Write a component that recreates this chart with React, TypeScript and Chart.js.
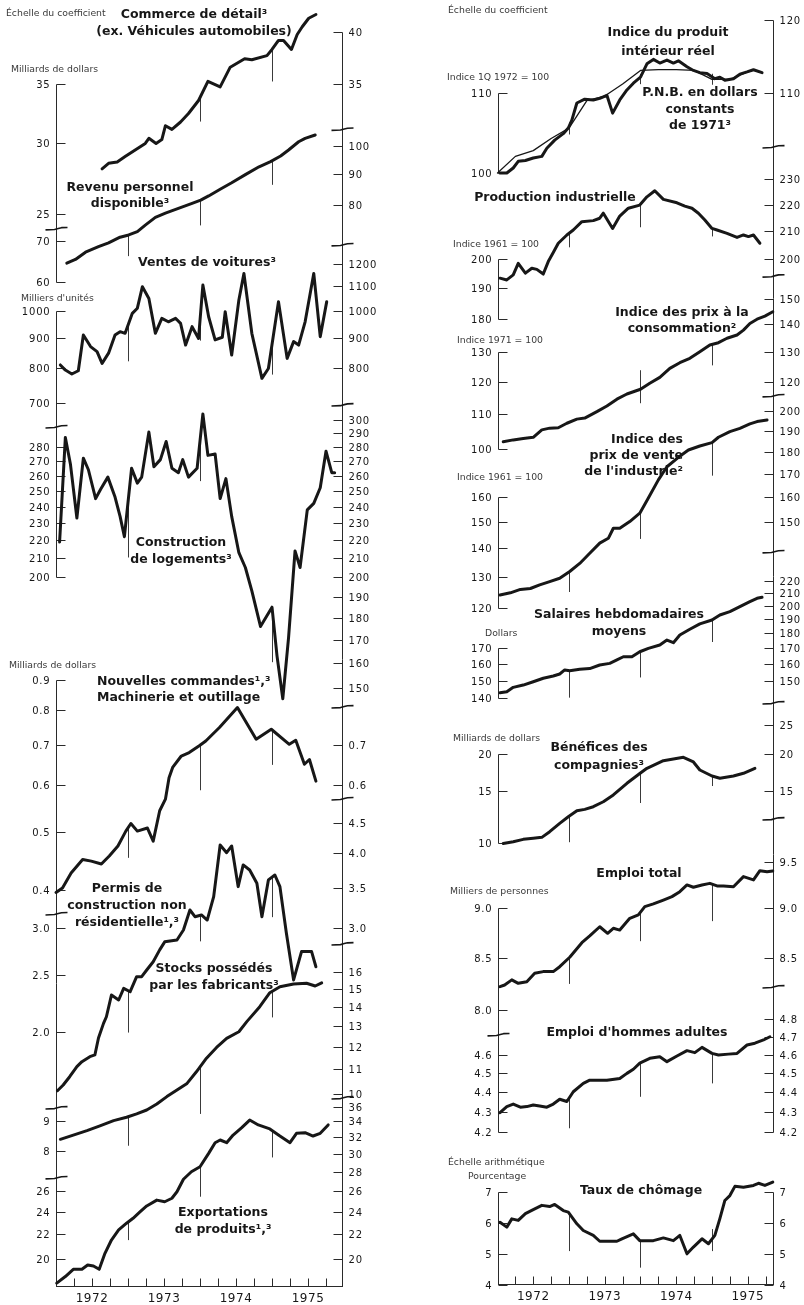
import React, { useEffect, useRef } from "react";
import { Chart, registerables } from "chart.js";

Chart.register(...registerables);

type Pt = [number, number];
type Col = "L" | "R";
type Ref = [string, number];

const W = 804;
const H = 1305;

// ---------------- time axis ----------------
const yearLabels = ["1972", "1973", "1974", "1975"];
const yearCenters = [1972.5, 1973.5, 1974.5, 1975.5];
const quarterTicks = [
  1972.25, 1972.5, 1972.75, 1973, 1973.25, 1973.5, 1973.75, 1974, 1974.25, 1974.5, 1974.75,
  1975, 1975.25, 1975.5, 1975.75,
];

// ---------------- left column series: [year, value] ----------------
const commerceDetail: Pt[] = [
  [1972.64, 28.1], [1972.73, 28.5], [1972.85, 28.6], [1972.96, 29.0], [1973.1, 29.5],
  [1973.24, 30.0], [1973.29, 30.4], [1973.39, 30.0], [1973.47, 30.3], [1973.52, 31.4],
  [1973.61, 31.1], [1973.73, 31.7], [1973.84, 32.4], [1973.98, 33.5], [1974.11, 35.2],
  [1974.28, 34.7], [1974.42, 36.5], [1974.62, 37.3], [1974.72, 37.2], [1974.93, 37.6],
  [1975.0, 38.2], [1975.09, 39.1], [1975.16, 39.1], [1975.27, 38.2], [1975.35, 39.7],
  [1975.42, 40.5], [1975.51, 41.4], [1975.61, 41.8],
];
const revenuDisponible: Pt[] = [
  [1972.15, 64.4], [1972.27, 65.3], [1972.41, 67.1], [1972.59, 68.5], [1972.73, 69.5],
  [1972.89, 71.0], [1973.01, 71.6], [1973.13, 72.5], [1973.24, 74.3], [1973.38, 76.5],
  [1973.52, 77.7], [1973.7, 79.1], [1973.89, 80.6], [1974.01, 81.6], [1974.12, 82.9],
  [1974.28, 85.0], [1974.44, 87.1], [1974.63, 89.8], [1974.82, 92.5], [1974.98, 94.3],
  [1975.12, 96.3], [1975.23, 98.5], [1975.37, 101.6], [1975.46, 102.9], [1975.6, 104.2],
];
const ventesVoitures: Pt[] = [
  [1972.06, 811], [1972.13, 795], [1972.22, 783], [1972.31, 793], [1972.38, 911],
  [1972.48, 871], [1972.57, 854], [1972.64, 816], [1972.73, 849], [1972.82, 911],
  [1972.89, 923], [1972.96, 917], [1973.06, 991], [1973.13, 1011], [1973.2, 1099],
  [1973.29, 1050], [1973.38, 917], [1973.47, 972], [1973.56, 959], [1973.66, 972],
  [1973.73, 953], [1973.8, 876], [1973.89, 941], [1973.98, 899], [1974.04, 1106],
  [1974.12, 978], [1974.21, 894], [1974.31, 903], [1974.35, 997], [1974.44, 843],
  [1974.54, 1044], [1974.61, 1157], [1974.72, 917], [1974.86, 770], [1974.95, 800],
  [1975.09, 1037], [1975.21, 832], [1975.3, 888], [1975.37, 876], [1975.46, 959],
  [1975.58, 1157], [1975.67, 905], [1975.76, 1037],
];
const constructionLogements: Pt[] = [
  [1972.05, 219], [1972.13, 287], [1972.2, 268], [1972.29, 233], [1972.38, 272],
  [1972.45, 264], [1972.55, 245], [1972.62, 251], [1972.72, 259], [1972.82, 246],
  [1972.89, 234], [1972.95, 222], [1973.05, 265], [1973.13, 255], [1973.19, 259],
  [1973.29, 291], [1973.36, 266], [1973.45, 271], [1973.53, 284], [1973.61, 265],
  [1973.7, 262], [1973.76, 271], [1973.84, 259], [1973.96, 265], [1974.04, 305],
  [1974.11, 274], [1974.21, 275], [1974.28, 245], [1974.36, 258], [1974.44, 234],
  [1974.54, 213], [1974.63, 205], [1974.72, 193], [1974.84, 176], [1975.0, 185],
  [1975.07, 163], [1975.15, 146], [1975.23, 171], [1975.32, 214], [1975.39, 205],
  [1975.49, 238], [1975.58, 242], [1975.67, 252], [1975.75, 277], [1975.83, 262],
  [1975.87, 262],
];
const nouvellesCommandes: Pt[] = [
  [1972.0, 0.396], [1972.09, 0.403], [1972.21, 0.427], [1972.37, 0.45], [1972.49, 0.447],
  [1972.63, 0.442], [1972.74, 0.456], [1972.86, 0.474], [1972.97, 0.502], [1973.04, 0.517],
  [1973.13, 0.502], [1973.27, 0.508], [1973.35, 0.483], [1973.44, 0.543], [1973.52, 0.568],
  [1973.57, 0.617], [1973.62, 0.642], [1973.74, 0.671], [1973.85, 0.68], [1973.99, 0.698],
  [1974.08, 0.711], [1974.27, 0.749], [1974.52, 0.809], [1974.78, 0.716], [1974.99, 0.744],
  [1975.24, 0.702], [1975.33, 0.713], [1975.45, 0.65], [1975.52, 0.662], [1975.61, 0.609],
];
const permisNonResidentiels: Pt[] = [
  [1972.02, 1.595], [1972.1, 1.631], [1972.19, 1.684], [1972.29, 1.751], [1972.36, 1.785],
  [1972.47, 1.82], [1972.54, 1.832], [1972.59, 1.956], [1972.66, 2.07], [1972.7, 2.124],
  [1972.77, 2.31], [1972.87, 2.266], [1972.94, 2.371], [1973.03, 2.34], [1973.12, 2.48],
  [1973.19, 2.48], [1973.26, 2.545], [1973.35, 2.628], [1973.44, 2.751], [1973.51, 2.838],
  [1973.68, 2.858], [1973.77, 2.971], [1973.86, 3.21], [1973.93, 3.128], [1974.02, 3.149],
  [1974.1, 3.088], [1974.19, 3.381], [1974.28, 4.128], [1974.37, 4.007], [1974.44, 4.113],
  [1974.53, 3.514], [1974.6, 3.822], [1974.69, 3.747], [1974.79, 3.561], [1974.86, 3.128],
  [1974.95, 3.607], [1975.04, 3.676], [1975.11, 3.514], [1975.2, 2.934], [1975.3, 2.449],
  [1975.41, 2.733], [1975.55, 2.733], [1975.61, 2.577],
];
const stocksFabricants: Pt[] = [
  [1972.06, 8.37], [1972.24, 8.51], [1972.43, 8.66], [1972.61, 8.82], [1972.8, 9.0],
  [1972.98, 9.12], [1973.12, 9.24], [1973.26, 9.38], [1973.4, 9.6], [1973.54, 9.88],
  [1973.68, 10.14], [1973.82, 10.4], [1973.95, 10.88], [1974.09, 11.47], [1974.23, 11.96],
  [1974.37, 12.39], [1974.54, 12.71], [1974.65, 13.22], [1974.83, 14.01], [1974.97, 14.79],
  [1975.11, 15.14], [1975.3, 15.3], [1975.48, 15.34], [1975.6, 15.18], [1975.69, 15.37],
];
const exportationsProduits: Pt[] = [
  [1972.01, 18.22], [1972.13, 18.69], [1972.24, 19.22], [1972.36, 19.22], [1972.44, 19.54],
  [1972.52, 19.47], [1972.6, 19.22], [1972.68, 20.44], [1972.77, 21.52], [1972.87, 22.37],
  [1972.98, 22.96], [1973.07, 23.4], [1973.17, 24.0], [1973.26, 24.54], [1973.4, 25.1],
  [1973.51, 24.94], [1973.61, 25.28], [1973.68, 25.92], [1973.77, 27.2], [1973.88, 28.0],
  [1974.0, 28.55], [1974.12, 30.06], [1974.21, 31.32], [1974.28, 31.65], [1974.37, 31.32],
  [1974.46, 32.26], [1974.58, 33.19], [1974.69, 34.18], [1974.81, 33.54], [1974.97, 33.03],
  [1975.11, 32.14], [1975.25, 31.32], [1975.34, 32.48], [1975.46, 32.56], [1975.57, 32.14],
  [1975.67, 32.48], [1975.78, 33.54],
];

// ---------------- right column series ----------------
const produitInterieurReel: Pt[] = [
  [1972.035, 100.0], [1972.13, 100.0], [1972.22, 100.6], [1972.29, 101.4], [1972.39, 101.5],
  [1972.5, 101.8], [1972.62, 102.0], [1972.69, 103.0], [1972.8, 104.0], [1972.92, 104.8],
  [1972.99, 105.5], [1973.04, 106.5], [1973.11, 108.7], [1973.22, 109.2], [1973.34, 109.1],
  [1973.43, 109.3], [1973.53, 109.7], [1973.61, 107.4], [1973.71, 109.1], [1973.81, 110.4],
  [1973.9, 111.3], [1974.0, 112.1], [1974.09, 113.9], [1974.18, 114.5], [1974.27, 114.0],
  [1974.37, 114.4], [1974.46, 114.0], [1974.53, 114.3], [1974.65, 113.5], [1974.74, 113.0],
  [1974.83, 112.7], [1974.93, 112.6], [1975.04, 111.9], [1975.11, 112.1], [1975.18, 111.7],
  [1975.3, 111.9], [1975.39, 112.5], [1975.49, 112.8], [1975.58, 113.1], [1975.7, 112.7],
];
const pnbDollarsConstants: Pt[] = [
  [1972.0, 100.0], [1972.25, 102.0], [1972.5, 102.7], [1972.75, 104.2], [1973.0, 105.5],
  [1973.25, 109.0], [1973.5, 109.6], [1973.75, 111.2], [1974.0, 113.0], [1974.25, 113.1],
  [1974.5, 113.1], [1974.75, 113.0], [1975.0, 111.8], [1975.25, 111.8], [1975.5, 112.8],
];
const productionIndustrielle: Pt[] = [
  [1972.035, 193.4], [1972.13, 192.8], [1972.22, 194.5], [1972.29, 198.5], [1972.39, 195.1],
  [1972.48, 196.8], [1972.55, 196.4], [1972.64, 194.8], [1972.71, 199.1], [1972.78, 202.3],
  [1972.85, 205.6], [1972.97, 208.6], [1973.06, 210.4], [1973.18, 213.5], [1973.34, 213.9],
  [1973.43, 214.8], [1973.48, 216.7], [1973.61, 211.0], [1973.71, 215.6], [1973.83, 218.6],
  [1973.99, 219.8], [1974.09, 223.0], [1974.2, 225.4], [1974.32, 222.0], [1974.51, 220.7],
  [1974.62, 219.4], [1974.72, 218.6], [1974.81, 216.7], [1974.9, 214.1], [1975.0, 211.0],
  [1975.07, 210.4], [1975.21, 209.2], [1975.35, 207.7], [1975.44, 208.6], [1975.51, 208.0],
  [1975.58, 208.6], [1975.67, 205.6],
];
const prixConsommation: Pt[] = [
  [1972.08, 102.1], [1972.22, 102.6], [1972.36, 103.0], [1972.5, 103.3], [1972.62, 105.4],
  [1972.73, 105.9], [1972.85, 106.0], [1972.97, 107.3], [1973.11, 108.5], [1973.22, 108.8],
  [1973.39, 110.7], [1973.53, 112.4], [1973.67, 114.5], [1973.81, 116.1], [1974.0, 117.6],
  [1974.13, 119.5], [1974.27, 121.4], [1974.41, 124.4], [1974.55, 126.3], [1974.69, 127.8],
  [1974.83, 130.1], [1974.97, 132.5], [1975.09, 133.3], [1975.21, 134.9], [1975.35, 136.1],
  [1975.44, 137.9], [1975.53, 140.4], [1975.63, 142.0], [1975.74, 143.2], [1975.85, 144.9],
];
const prixVenteIndustrie: Pt[] = [
  [1972.035, 124.0], [1972.18, 124.7], [1972.32, 125.8], [1972.46, 126.1], [1972.59, 127.3],
  [1972.73, 128.4], [1972.87, 129.5], [1973.01, 131.8], [1973.15, 134.6], [1973.29, 138.2],
  [1973.43, 141.9], [1973.55, 143.7], [1973.62, 147.5], [1973.71, 147.5], [1973.85, 150.1],
  [1973.99, 153.4], [1974.11, 159.6], [1974.25, 167.3], [1974.37, 173.1], [1974.53, 177.4],
  [1974.67, 180.8], [1974.83, 182.7], [1975.0, 184.3], [1975.09, 186.9], [1975.25, 189.7],
  [1975.39, 191.3], [1975.53, 193.5], [1975.63, 194.7], [1975.77, 195.5],
];
const salairesHebdomadaires: Pt[] = [
  [1972.035, 143.1], [1972.13, 143.7], [1972.22, 146.1], [1972.36, 147.4], [1972.5, 149.3],
  [1972.64, 151.3], [1972.78, 152.6], [1972.87, 153.8], [1972.94, 156.2], [1973.01, 155.7],
  [1973.15, 156.6], [1973.29, 157.0], [1973.43, 159.2], [1973.57, 160.2], [1973.67, 162.3],
  [1973.76, 164.3], [1973.88, 164.3], [1973.99, 167.5], [1974.11, 169.7], [1974.27, 171.9],
  [1974.37, 175.2], [1974.46, 173.4], [1974.55, 178.6], [1974.69, 182.6], [1974.83, 186.4],
  [1975.0, 189.2], [1975.11, 192.9], [1975.25, 195.4], [1975.39, 199.2], [1975.53, 203.0],
  [1975.63, 205.6], [1975.7, 206.4],
];
const beneficesCompagnies: Pt[] = [
  [1972.08, 10.0], [1972.22, 10.13], [1972.36, 10.32], [1972.5, 10.4], [1972.62, 10.48],
  [1972.73, 10.95], [1972.87, 11.68], [1972.99, 12.3], [1973.11, 12.88], [1973.22, 13.02],
  [1973.34, 13.29], [1973.48, 13.81], [1973.62, 14.56], [1973.81, 15.94], [1973.99, 17.19],
  [1974.09, 17.9], [1974.32, 18.99], [1974.6, 19.49], [1974.74, 18.8], [1974.83, 17.67],
  [1975.0, 16.86], [1975.11, 16.57], [1975.3, 16.86], [1975.44, 17.22], [1975.6, 17.9],
];
const emploiTotal: Pt[] = [
  [1972.035, 8.218], [1972.1, 8.234], [1972.2, 8.283], [1972.29, 8.25], [1972.41, 8.266],
  [1972.52, 8.347], [1972.64, 8.363], [1972.78, 8.363], [1972.87, 8.411], [1973.01, 8.504],
  [1973.18, 8.649], [1973.29, 8.717], [1973.43, 8.811], [1973.54, 8.744], [1973.62, 8.795],
  [1973.71, 8.777], [1973.85, 8.898], [1973.97, 8.933], [1974.06, 9.019], [1974.18, 9.048],
  [1974.32, 9.089], [1974.44, 9.125], [1974.55, 9.178], [1974.65, 9.25], [1974.74, 9.225],
  [1974.86, 9.25], [1974.97, 9.267], [1975.07, 9.239], [1975.16, 9.239], [1975.3, 9.231],
  [1975.44, 9.34], [1975.58, 9.304], [1975.67, 9.405], [1975.77, 9.394], [1975.85, 9.401],
];
const emploiHommesAdultes: Pt[] = [
  [1972.035, 4.295], [1972.13, 4.326], [1972.22, 4.339], [1972.32, 4.323], [1972.41, 4.326],
  [1972.5, 4.334], [1972.59, 4.329], [1972.69, 4.323], [1972.78, 4.339], [1972.87, 4.364],
  [1972.97, 4.352], [1973.06, 4.403], [1973.2, 4.447], [1973.29, 4.464], [1973.53, 4.464],
  [1973.71, 4.473], [1973.81, 4.5], [1973.9, 4.522], [1973.99, 4.555], [1974.13, 4.581],
  [1974.27, 4.59], [1974.37, 4.563], [1974.51, 4.594], [1974.65, 4.623], [1974.76, 4.612],
  [1974.86, 4.641], [1975.0, 4.608], [1975.09, 4.599], [1975.23, 4.604], [1975.35, 4.608],
  [1975.49, 4.654], [1975.6, 4.664], [1975.72, 4.682], [1975.81, 4.7],
];
const tauxChomage: Pt[] = [
  [1972.035, 6.03], [1972.13, 5.87], [1972.2, 6.14], [1972.29, 6.09], [1972.39, 6.31],
  [1972.5, 6.44], [1972.62, 6.58], [1972.73, 6.54], [1972.8, 6.61], [1972.92, 6.41],
  [1972.99, 6.36], [1973.11, 5.98], [1973.2, 5.76], [1973.34, 5.6], [1973.43, 5.41],
  [1973.67, 5.41], [1973.74, 5.49], [1973.9, 5.65], [1973.99, 5.43], [1974.18, 5.43],
  [1974.32, 5.52], [1974.46, 5.43], [1974.55, 5.6], [1974.65, 5.0], [1974.74, 5.22],
  [1974.86, 5.49], [1974.95, 5.33], [1975.04, 5.6], [1975.11, 6.15], [1975.18, 6.74],
  [1975.25, 6.9], [1975.32, 7.2], [1975.44, 7.17], [1975.58, 7.23], [1975.65, 7.3],
  [1975.74, 7.23], [1975.85, 7.34],
];

// ---------------- tick labels ----------------
const commerceTicksL = [35, 30, 25];
const commerceTicksR = [40, 35];
const revenuTicksL = [70, 60];
const revenuTicksR = [100, 90, 80];
const voituresTicksL = [1000, 900, 800, 700];
const voituresTicksR = [1200, 1100, 1000, 900, 800];
const logementsTicksL = [280, 270, 260, 250, 240, 230, 220, 210, 200];
const logementsTicksR = [300, 290, 280, 270, 260, 250, 240, 230, 220, 210, 200, 190, 180, 170, 160, 150];
const commandesTicksL = [0.9, 0.8, 0.7, 0.6, 0.5, 0.4];
const commandesTicksR = [0.7, 0.6];
const permisTicksL = [3.0, 2.5, 2.0];
const permisTicksR = [4.5, 4.0, 3.5, 3.0];
const stocksTicksL = [9, 8];
const stocksTicksR = [16, 15, 14, 13, 12, 11, 10];
const exportTicksL = [26, 24, 22, 20];
const exportTicksR = [36, 34, 32, 30, 28, 26, 24, 22, 20];
const pibTicksL = [110, 100];
const pibTicksR = [120, 110];
const prodTicksL = [200, 190, 180];
const prodTicksR = [230, 220, 210, 200];
const ipcTicksL = [130, 120, 110, 100];
const ipcTicksR = [150, 140, 130, 120];
const ipvTicksL = [160, 150, 140, 130, 120];
const ipvTicksR = [200, 190, 180, 170, 160, 150];
const salTicksL = [170, 160, 150, 140];
const salTicksR = [220, 210, 200, 190, 180, 170, 160, 150];
const benTicksL = [20, 15, 10];
const benTicksR = [25, 20, 15];
const empTicksL = [9.0, 8.5, 8.0];
const empTicksR = [9.5, 9.0, 8.5];
const homTicksL = [4.6, 4.5, 4.4, 4.3, 4.2];
const homTicksR = [4.8, 4.7, 4.6, 4.5, 4.4, 4.3, 4.2];
const choTicksL = [7, 6, 5, 4];
const choTicksR = [7, 6, 5, 4];

// ---------------- layout & styles ----------------
const INK = "#171717";
const AXIS = "#2a2a2a";
const SOFT = "#3a3a3a";
const FONT = '"DejaVu Sans", "Liberation Sans", sans-serif';

const COLS: Record<Col, { x0: number; ppy: number; leftX: number; rightX: number; baseY: number; xStart: number; xEnd: number }> = {
  L: { x0: 56, ppy: 72, leftX: 56.5, rightX: 342.5, baseY: 1286.5, xStart: 56, xEnd: 343 },
  R: { x0: 497.5, ppy: 71.5, leftX: 498.5, rightX: 773.5, baseY: 1284.5, xStart: 498, xEnd: 774 },
};

// scale calibration: a value, the pixel row it sits on, pixels per decade (log) or per unit (linear)
const SCALES: Record<string, { type: "logarithmic" | "linear"; value: number; pixel: number; per: number }> = {
  yCom: { type: "logarithmic", value: 35, pixel: 83.5, per: 895 },
  yRev: { type: "logarithmic", value: 100, pixel: 146, per: 613 },
  yCar: { type: "logarithmic", value: 1000, pixel: 311, per: 593 },
  yCon: { type: "logarithmic", value: 280, pixel: 447, per: 890 },
  yCmd: { type: "logarithmic", value: 0.9, pixel: 680, per: 596 },
  yPer: { type: "logarithmic", value: 3.0, pixel: 927.5, per: 595 },
  yStk: { type: "logarithmic", value: 10, pixel: 1093.5, per: 593 },
  yExp: { type: "logarithmic", value: 20, pixel: 1259, per: 597 },
  yPib: { type: "logarithmic", value: 100, pixel: 173, per: 1932 },
  yPro: { type: "logarithmic", value: 200, pixel: 259, per: 1315 },
  yCpi: { type: "logarithmic", value: 130, pixel: 352, per: 855 },
  yIpv: { type: "logarithmic", value: 160, pixel: 497, per: 885 },
  ySal: { type: "logarithmic", value: 150, pixel: 680.5, per: 600 },
  yBen: { type: "logarithmic", value: 20, pixel: 754, per: 297 },
  yEmp: { type: "logarithmic", value: 9, pixel: 908.5, per: 1980 },
  yHom: { type: "logarithmic", value: 4.2, pixel: 1131.5, per: 1940 },
  yCho: { type: "linear", value: 4, pixel: 1284.5, per: 30.67 },
};

type Series = { data: Pt[]; col: Col; y: string; width: number; markers: [number, number, number][] };
const SERIES: Series[] = [
  { data: commerceDetail, col: "L", y: "yCom", width: 3, markers: [[1974, 0, 24], [1975, 0, 32]] },
  { data: revenuDisponible, col: "L", y: "yRev", width: 3, markers: [[1973, 0, 21], [1974, 0, 25], [1975, 0, 24]] },
  { data: ventesVoitures, col: "L", y: "yCar", width: 3, markers: [[1973, 0, 36], [1974, 0, 20], [1975, 0, 30]] },
  { data: constructionLogements, col: "L", y: "yCon", width: 3, markers: [[1973, 0, 55], [1974, 0, 40], [1975, 0, 55]] },
  { data: nouvellesCommandes, col: "L", y: "yCmd", width: 3, markers: [[1973, 0, 30], [1974, 0, 45], [1975, 0, 35]] },
  { data: permisNonResidentiels, col: "L", y: "yPer", width: 3, markers: [[1973, 0, 42], [1974, 0, 26], [1975, 0, 40]] },
  { data: stocksFabricants, col: "L", y: "yStk", width: 3, markers: [[1973, 0, 29], [1974, 0, 47], [1975, 0, 26]] },
  { data: exportationsProduits, col: "L", y: "yExp", width: 3, markers: [[1973, 0, 18], [1974, 0, 30], [1975, 0, 27]] },
  { data: produitInterieurReel, col: "R", y: "yPib", width: 3, markers: [[1973, 4, 8], [1974, 3, 7], [1975, 3, 8]] },
  { data: pnbDollarsConstants, col: "R", y: "yPib", width: 1.3, markers: [] },
  { data: productionIndustrielle, col: "R", y: "yPro", width: 3, markers: [[1973, 0, 14], [1974, 0, 23], [1975, 0, 8]] },
  { data: prixConsommation, col: "R", y: "yCpi", width: 3, markers: [[1974, 19, 14], [1975, 0, 21]] },
  { data: prixVenteIndustrie, col: "R", y: "yIpv", width: 3, markers: [[1973, 0, 20], [1974, 0, 27], [1975, 0, 33]] },
  { data: salairesHebdomadaires, col: "R", y: "ySal", width: 3, markers: [[1973, 0, 27], [1974, 0, 26], [1975, 0, 22]] },
  { data: beneficesCompagnies, col: "R", y: "yBen", width: 3, markers: [[1973, 0, 26], [1974, 0, 30], [1975, 0, 10]] },
  { data: emploiTotal, col: "R", y: "yEmp", width: 3, markers: [[1973, 0, 26], [1974, 0, 29], [1975, 0, 37]] },
  { data: emploiHommesAdultes, col: "R", y: "yHom", width: 3, markers: [[1973, 0, 30], [1974, 0, 34], [1975, 0, 30]] },
  { data: tauxChomage, col: "R", y: "yCho", width: 3, markers: [[1973, 0, 38], [1974, 0, 27], [1975, 10, 12]] },
];

const TICK_SETS: { id: string; col: Col; left: number[]; right: number[]; dec: number }[] = [
  { id: "yCom", col: "L", left: commerceTicksL, right: commerceTicksR, dec: 0 },
  { id: "yRev", col: "L", left: revenuTicksL, right: revenuTicksR, dec: 0 },
  { id: "yCar", col: "L", left: voituresTicksL, right: voituresTicksR, dec: 0 },
  { id: "yCon", col: "L", left: logementsTicksL, right: logementsTicksR, dec: 0 },
  { id: "yCmd", col: "L", left: commandesTicksL, right: commandesTicksR, dec: 1 },
  { id: "yPer", col: "L", left: permisTicksL, right: permisTicksR, dec: 1 },
  { id: "yStk", col: "L", left: stocksTicksL, right: stocksTicksR, dec: 0 },
  { id: "yExp", col: "L", left: exportTicksL, right: exportTicksR, dec: 0 },
  { id: "yPib", col: "R", left: pibTicksL, right: pibTicksR, dec: 0 },
  { id: "yPro", col: "R", left: prodTicksL, right: prodTicksR, dec: 0 },
  { id: "yCpi", col: "R", left: ipcTicksL, right: ipcTicksR, dec: 0 },
  { id: "yIpv", col: "R", left: ipvTicksL, right: ipvTicksR, dec: 0 },
  { id: "ySal", col: "R", left: salTicksL, right: salTicksR, dec: 0 },
  { id: "yBen", col: "R", left: benTicksL, right: benTicksR, dec: 0 },
  { id: "yEmp", col: "R", left: empTicksL, right: empTicksR, dec: 1 },
  { id: "yHom", col: "R", left: homTicksL, right: homTicksR, dec: 1 },
  { id: "yCho", col: "R", left: choTicksL, right: choTicksR, dec: 0 },
];

const LEFT_AXES: { col: Col; top: Ref; bottom: Ref | null }[] = [
  { col: "L", top: ["yCom", 35], bottom: ["yRev", 60] },
  { col: "L", top: ["yCar", 1000], bottom: ["yCon", 200] },
  { col: "L", top: ["yCmd", 0.9], bottom: null },
  { col: "R", top: ["yPib", 110], bottom: ["yPib", 100] },
  { col: "R", top: ["yPro", 200], bottom: ["yPro", 180] },
  { col: "R", top: ["yCpi", 130], bottom: ["yCpi", 100] },
  { col: "R", top: ["yIpv", 160], bottom: ["yIpv", 120] },
  { col: "R", top: ["ySal", 170], bottom: ["ySal", 140] },
  { col: "R", top: ["yBen", 20], bottom: ["yBen", 10] },
  { col: "R", top: ["yEmp", 9.0], bottom: ["yHom", 4.2] },
  { col: "R", top: ["yCho", 7], bottom: null },
];
const RIGHT_AXES: { col: Col; top: Ref; bottom: Ref | null }[] = [
  { col: "L", top: ["yCom", 40], bottom: null },
  { col: "R", top: ["yPib", 120], bottom: ["yHom", 4.2] },
  { col: "R", top: ["yCho", 7], bottom: null },
];
const BREAKS: { col: Col; side: "left" | "right"; at: Ref }[] = [
  { col: "L", side: "left", at: ["yCom", 24.08] },
  { col: "L", side: "left", at: ["yCar", 637.5] },
  { col: "L", side: "left", at: ["yCmd", 0.3645] },
  { col: "L", side: "left", at: ["yStk", 9.453] },
  { col: "L", side: "left", at: ["yStk", 7.205] },
  { col: "L", side: "right", at: ["yCom", 31.1] },
  { col: "L", side: "right", at: ["yRev", 68.97] },
  { col: "L", side: "right", at: ["yCar", 694] },
  { col: "L", side: "right", at: ["yCon", 142.9] },
  { col: "L", side: "right", at: ["yCmd", 0.5684] },
  { col: "L", side: "right", at: ["yPer", 2.814] },
  { col: "L", side: "right", at: ["yStk", 9.827] },
  { col: "R", side: "left", at: ["yEmp", 7.77] },
  { col: "R", side: "right", at: ["yPib", 103.15] },
  { col: "R", side: "right", at: ["yPro", 194.1] },
  { col: "R", side: "right", at: ["yCpi", 115.5] },
  { col: "R", side: "right", at: ["yIpv", 138.7] },
  { col: "R", side: "right", at: ["ySal", 137.6] },
  { col: "R", side: "right", at: ["yBen", 12.08] },
  { col: "R", side: "right", at: ["yEmp", 8.215] },
];

const TITLES: { lines: string[]; x: number; y: number; lh: number; align: CanvasTextAlign }[] = [
  { lines: ["Commerce de détail³", "(ex. Véhicules automobiles)"], x: 194, y: 15, lh: 17, align: "center" },
  { lines: ["Revenu personnel", "disponible³"], x: 130, y: 188, lh: 16, align: "center" },
  { lines: ["Ventes de voitures³"], x: 207, y: 263, lh: 16, align: "center" },
  { lines: ["Construction", "de logements³"], x: 181, y: 543, lh: 17, align: "center" },
  { lines: ["Nouvelles commandes¹,³", "Machinerie et outillage"], x: 97, y: 682, lh: 16, align: "left" },
  { lines: ["Permis de", "construction non", "résidentielle¹,³"], x: 127, y: 889, lh: 17, align: "center" },
  { lines: ["Stocks possédés", "par les fabricants³"], x: 214, y: 969, lh: 17, align: "center" },
  { lines: ["Exportations", "de produits¹,³"], x: 223, y: 1213, lh: 17, align: "center" },
  { lines: ["Indice du produit", "intérieur réel"], x: 668, y: 33, lh: 19, align: "center" },
  { lines: ["P.N.B. en dollars", "constants", "de 1971³"], x: 700, y: 93, lh: 16.5, align: "center" },
  { lines: ["Production industrielle"], x: 555, y: 198, lh: 16, align: "center" },
  { lines: ["Indice des prix à la", "consommation²"], x: 682, y: 313, lh: 16, align: "center" },
  { lines: ["Indice des", "prix de vente", "de l'industrie²"], x: 683, y: 440, lh: 16, align: "right" },
  { lines: ["Salaires hebdomadaires", "moyens"], x: 619, y: 615, lh: 17, align: "center" },
  { lines: ["Bénéfices des", "compagnies³"], x: 599, y: 748, lh: 18, align: "center" },
  { lines: ["Emploi total"], x: 639, y: 874, lh: 16, align: "center" },
  { lines: ["Emploi d'hommes adultes"], x: 637, y: 1033, lh: 16, align: "center" },
  { lines: ["Taux de chômage"], x: 641, y: 1191, lh: 16, align: "center" },
];

const NOTES: { text: string; x: number; y: number }[] = [
  { text: "Échelle du coefficient", x: 6, y: 14 },
  { text: "Milliards de dollars", x: 11, y: 70 },
  { text: "Milliers d'unités", x: 21, y: 299 },
  { text: "Milliards de dollars", x: 9, y: 666 },
  { text: "Échelle du coefficient", x: 448, y: 11 },
  { text: "Indice 1Q 1972 = 100", x: 447, y: 78 },
  { text: "Indice 1961 = 100", x: 453, y: 245 },
  { text: "Indice 1971 = 100", x: 457, y: 341 },
  { text: "Indice 1961 = 100", x: 457, y: 478 },
  { text: "Dollars", x: 485, y: 634 },
  { text: "Milliards de dollars", x: 453, y: 739 },
  { text: "Milliers de personnes", x: 450, y: 892 },
  { text: "Échelle arithmétique", x: 448, y: 1163 },
  { text: "Pourcentage", x: 468, y: 1177 },
];

function buildYScale(a: { type: "logarithmic" | "linear"; value: number; pixel: number; per: number }) {
  if (a.type === "linear") {
    return { type: "linear", display: false, bounds: "data", min: a.value - (H - a.pixel) / a.per, max: a.value + a.pixel / a.per };
  }
  const lv = Math.log10(a.value);
  return {
    type: "logarithmic",
    display: false,
    bounds: "data",
    min: Math.pow(10, lv - (H - a.pixel) / a.per),
    max: Math.pow(10, lv + a.pixel / a.per),
  };
}

function buildXScale(c: { x0: number; ppy: number }) {
  return { type: "linear", display: false, bounds: "data", min: 1972 - c.x0 / c.ppy, max: 1972 + (W - c.x0) / c.ppy };
}

const decorPlugin = {
  id: "decor",
  beforeDatasetsDraw(chart: any) {
    const ctx: CanvasRenderingContext2D = chart.ctx;
    const sc = chart.scales;
    const Y = (r: Ref) => sc[r[0]].getPixelForValue(r[1]);
    const X = (col: Col, yr: number) => sc[col === "L" ? "xL" : "xR"].getPixelForValue(yr);
    const ln = (x0: number, y0: number, x1: number, y1: number) => {
      ctx.beginPath();
      ctx.moveTo(x0, y0);
      ctx.lineTo(x1, y1);
      ctx.stroke();
    };
    const setSpacing = (s: string) => {
      (ctx as any).letterSpacing = s;
    };
    ctx.save();
    ctx.lineCap = "butt";
    ctx.strokeStyle = AXIS;
    ctx.lineWidth = 1;

    // vertical axis segments
    for (const a of LEFT_AXES) {
      const c = COLS[a.col];
      ln(c.leftX, Math.round(Y(a.top)) + 0.5, c.leftX, a.bottom ? Math.round(Y(a.bottom)) + 0.5 : c.baseY);
    }
    for (const a of RIGHT_AXES) {
      const c = COLS[a.col];
      ln(c.rightX, Math.round(Y(a.top)) + 0.5, c.rightX, a.bottom ? Math.round(Y(a.bottom)) + 0.5 : c.baseY);
    }

    // ticks and labels
    ctx.fillStyle = INK;
    ctx.textBaseline = "middle";
    ctx.font = `10px ${FONT}`;
    setSpacing("0.8px");
    for (const t of TICK_SETS) {
      const c = COLS[t.col];
      for (const v of t.left) {
        const y = Math.round(sc[t.id].getPixelForValue(v)) + 0.5;
        ln(c.leftX, y, c.leftX + 9, y);
        ctx.textAlign = "right";
        ctx.fillText(v.toFixed(t.dec), c.leftX - 6, y + 0.5);
      }
      for (const v of t.right) {
        const y = Math.round(sc[t.id].getPixelForValue(v)) + 0.5;
        ln(c.rightX - 9, y, c.rightX, y);
        ctx.textAlign = "left";
        ctx.fillText(v.toFixed(t.dec), c.rightX + 6, y + 0.5);
      }
    }
    setSpacing("0px");

    // axis breaks
    ctx.lineWidth = 1.6;
    ctx.strokeStyle = INK;
    for (const b of BREAKS) {
      const c = COLS[b.col];
      const x = b.side === "left" ? c.leftX : c.rightX;
      const y = Y(b.at);
      ctx.beginPath();
      ctx.moveTo(x - 11, y + 1);
      ctx.lineTo(x - 2, y + 0.6);
      ctx.quadraticCurveTo(x + 2, y - 0.5, x + 5, y - 1.2);
      ctx.lineTo(x + 11, y - 1.4);
      ctx.stroke();
    }

    // time axes
    ctx.lineWidth = 1.2;
    ctx.strokeStyle = AXIS;
    ctx.font = `12px ${FONT}`;
    ctx.textAlign = "center";
    ctx.fillStyle = INK;
    for (const col of ["L", "R"] as Col[]) {
      const c = COLS[col];
      ln(c.xStart, c.baseY, c.xEnd, c.baseY);
      ctx.lineWidth = 1;
      for (const q of quarterTicks) {
        const x = Math.round(X(col, q)) + 0.5;
        ln(x, c.baseY, x, c.baseY - 8);
      }
      setSpacing("0.5px");
      yearLabels.forEach((lab, i) => ctx.fillText(lab, X(col, yearCenters[i]), c.baseY + 12));
      setSpacing("0px");
      ctx.lineWidth = 1.2;
    }

    // year markers hanging from series
    ctx.lineWidth = 1;
    ctx.strokeStyle = SOFT;
    for (const s of SERIES) {
      for (const [yr, up, down] of s.markers) {
        const d = s.data;
        for (let i = 0; i < d.length - 1; i++) {
          if (yr >= d[i][0] && yr <= d[i + 1][0]) {
            const t = (yr - d[i][0]) / (d[i + 1][0] - d[i][0]);
            const p0 = sc[s.y].getPixelForValue(d[i][1]);
            const p1 = sc[s.y].getPixelForValue(d[i + 1][1]);
            const py = p0 + t * (p1 - p0);
            const x = Math.round(X(s.col, yr)) + 0.5;
            ln(x, py - up, x, py + down);
            break;
          }
        }
      }
    }

    // notes
    ctx.fillStyle = SOFT;
    ctx.font = `9.3px ${FONT}`;
    ctx.textAlign = "left";
    for (const n of NOTES) ctx.fillText(n.text, n.x, n.y);

    // series titles
    ctx.fillStyle = INK;
    ctx.font = `bold 12.5px ${FONT}`;
    for (const t of TITLES) {
      ctx.textAlign = t.align;
      t.lines.forEach((line, i) => ctx.fillText(line, t.x, t.y + i * t.lh));
    }
    ctx.restore();
  },
};

export default function App() {
  const ref = useRef<HTMLCanvasElement | null>(null);
  useEffect(() => {
    if (!ref.current) return;
    const scales: Record<string, any> = { xL: buildXScale(COLS.L), xR: buildXScale(COLS.R) };
    for (const id of Object.keys(SCALES)) scales[id] = buildYScale(SCALES[id]);
    const chart = new Chart(ref.current, {
      type: "line",
      data: {
        datasets: SERIES.map((s) => ({
          data: s.data.map(([x, y]) => ({ x, y })),
          xAxisID: s.col === "L" ? "xL" : "xR",
          yAxisID: s.y,
          borderColor: INK,
          borderWidth: s.width,
          borderJoinStyle: "round" as const,
          borderCapStyle: "round" as const,
          pointRadius: 0,
          tension: 0,
          fill: false,
        })),
      },
      options: {
        responsive: false,
        maintainAspectRatio: false,
        animation: false,
        events: [],
        layout: { padding: 0 },
        plugins: { legend: { display: false }, tooltip: { enabled: false }, title: { display: false } },
        scales,
      } as any,
      plugins: [decorPlugin],
    });
    return () => chart.destroy();
  }, []);
  return (
    <div style={{ position: "absolute", left: 0, top: 0, width: W, height: H, background: "#fff" }}>
      <canvas ref={ref} width={W} height={H} style={{ display: "block", width: W, height: H }} />
    </div>
  );
}
